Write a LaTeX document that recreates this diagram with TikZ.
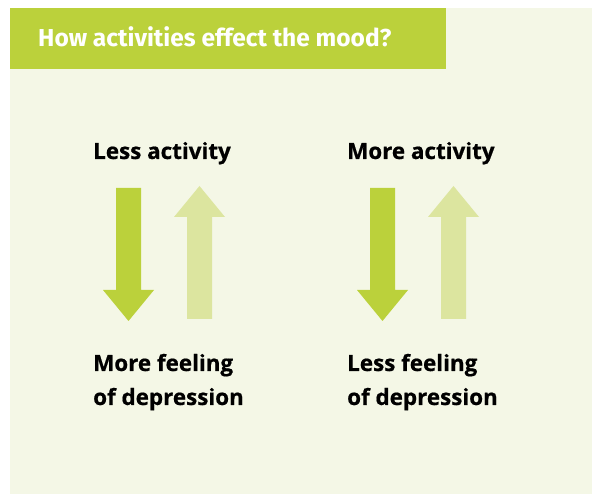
\documentclass[tikz,border=0pt]{standalone}
\usepackage{fontspec}
\setmainfont{Fira Sans}
\newfontfamily\lblfont[FakeBold=0.6]{Open Sans}
\definecolor{hdr}{HTML}{BBD13B}
\definecolor{dark}{HTML}{BBD13B}
\definecolor{light}{HTML}{DCE59F}
\definecolor{panel}{HTML}{F4F7E6}
\begin{document}
\begin{tikzpicture}[x=1pt,y=-1pt,
  lbl/.style={anchor=base west,inner sep=0pt,font=\lblfont\fontsize{22.4}{34}\selectfont\bfseries,text=black},
  downarrow/.style={fill=dark},
  uparrow/.style={fill=light}]
\useasboundingbox (0,0) rectangle (592,494);
\fill[white] (0,0) rectangle (592,494);
\fill[panel] (9.5,8) rectangle (592,494);
\fill[hdr] (9.5,8) rectangle (446,69);
\node[anchor=base west,inner sep=0pt,text=white,font=\fontsize{24.5}{28}\selectfont\bfseries] (title) at (38,47) {How activities effect the mood?};
% left
\node[lbl] (l1) at (93,159) {Less activity};
\node[lbl] (l2) at (93,371) {More feeling};
\node[lbl] (l3) at (93,405) {of depression};
\fill[downarrow] (116,188) -- (141,188) -- (141,290) -- (154,290) -- (128.5,321) -- (103,290) -- (116,290) -- cycle;
\fill[uparrow] (187,319) -- (212,319) -- (212,217) -- (225,217) -- (199.5,186) -- (174,217) -- (187,217) -- cycle;
% right
\node[lbl] (r1) at (347,159) {More activity};
\node[lbl] (r2) at (347,371) {Less feeling};
\node[lbl] (r3) at (347,405) {of depression};
\begin{scope}[xshift=254pt]
\fill[downarrow] (116,188) -- (141,188) -- (141,290) -- (154,290) -- (128.5,321) -- (103,290) -- (116,290) -- cycle;
\fill[uparrow] (187,319) -- (212,319) -- (212,217) -- (225,217) -- (199.5,186) -- (174,217) -- (187,217) -- cycle;
\end{scope}
\end{tikzpicture}
\end{document}
